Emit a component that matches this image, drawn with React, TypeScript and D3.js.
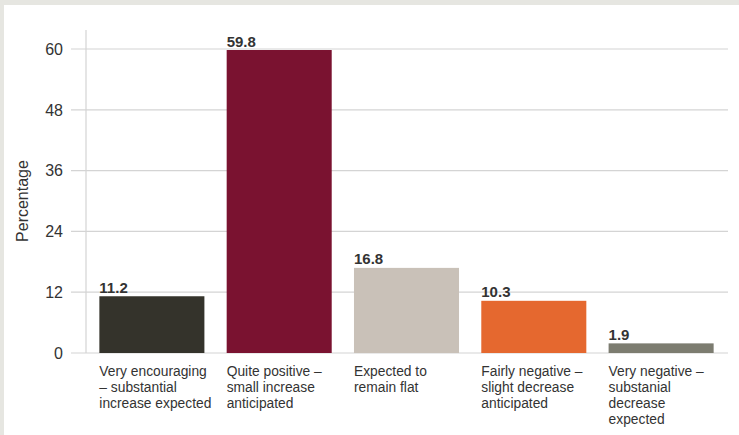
import React from "react";
import * as d3 from "d3";

const categories: string[][] = [
  ["Very encouraging", "– substantial", "increase expected"],
  ["Quite positive –", "small increase", "anticipated"],
  ["Expected to", "remain flat"],
  ["Fairly negative –", "slight decrease", "anticipated"],
  ["Very negative –", "substanial", "decrease", "expected"],
];
const values: number[] = [11.2, 59.8, 16.8, 10.3, 1.9];
const colors: string[] = ["#34332b", "#7a1230", "#c9c1b8", "#e5682f", "#7c7c70"];
const yTicks: number[] = [0, 12, 24, 36, 48, 60];

const W = 739;
const H = 435;

export default function App() {
  const x = d3
    .scaleBand<number>()
    .domain(values.map((_, i) => i))
    .range([86, 727])
    .paddingInner(0.175)
    .paddingOuter(0.105);
  const y = d3.scaleLinear().domain([0, 60]).range([353, 49]);
  const font = "'Liberation Sans', Arial, Helvetica, sans-serif";

  return (
    <svg
      width={W}
      height={H}
      style={{ position: "fixed", top: 0, left: 0, background: "#fff" }}
      fontFamily={font}
    >
      <rect x={0} y={0} width={W} height={5} fill="#e6e6e1" />
      <rect x={0} y={0} width={4} height={H} fill="#e6e6e1" />
      {yTicks.map((t) => (
        <g key={t}>
          <line x1={71} x2={728} y1={y(t)} y2={y(t)} stroke="#d4d4d4" strokeWidth={1.2} />
          <text x={63} y={y(t)} dy="0.36em" textAnchor="end" fontSize={16} fill="#333">
            {t}
          </text>
        </g>
      ))}
      <line x1={86} x2={86} y1={30} y2={353} stroke="#d4d4d4" strokeWidth={1.2} />
      <text
        transform={`translate(28,201) rotate(-90)`}
        textAnchor="middle"
        fontSize={16}
        fill="#333"
      >
        Percentage
      </text>
      {values.map((v, i) => (
        <g key={i}>
          <rect
            x={x(i)!}
            y={y(v)}
            width={x.bandwidth()}
            height={y(0) - y(v)}
            fill={colors[i]}
          />
          <text x={x(i)!} y={y(v) - 3.5} fontSize={15} fontWeight="bold" fill="#333">
            {v.toFixed(1)}
          </text>
          <text x={x(i)!} y={376} fontSize={13.8} fill="#333">
            {categories[i].map((line, j) => (
              <tspan key={j} x={x(i)!} dy={j === 0 ? 0 : 16}>
                {line}
              </tspan>
            ))}
          </text>
        </g>
      ))}
    </svg>
  );
}
